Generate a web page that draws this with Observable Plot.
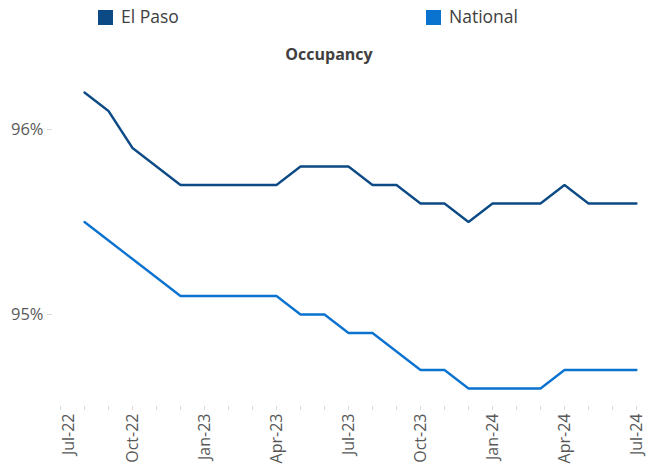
<!DOCTYPE html>
<html>
<head>
<meta charset="utf-8">
<script src="https://cdn.jsdelivr.net/npm/d3@7"></script>
<script src="https://cdn.jsdelivr.net/npm/@observablehq/plot@0.6"></script>
<style>
  body { margin: 0; background: #fff; font-family: "Open Sans", sans-serif; }
  #wrap { width: 649px; }
  #legend { position: relative; height: 32px; }
  .sw { position: absolute; top: 10px; width: 15px; height: 15px; }
  .lt { position: absolute; top: 3px; font-size: 17.5px; line-height: 26px; color: #404040; }
  #title { height: 38px; box-sizing: border-box; padding-top: 7px; line-height: 31px; font-size: 16px; font-weight: bold; color: #404040; text-align: center; padding-left: 9px; }
  svg { display: block; }
</style>
</head>
<body>
<div id="wrap">
  <div id="legend"></div>
  <div id="title">Occupancy</div>
  <div id="chart"></div>
</div>
<script>
const months = ["Jul-22","Aug-22","Sep-22","Oct-22","Nov-22","Dec-22","Jan-23","Feb-23","Mar-23","Apr-23","May-23","Jun-23","Jul-23","Aug-23","Sep-23","Oct-23","Nov-23","Dec-23","Jan-24","Feb-24","Mar-24","Apr-24","May-24","Jun-24","Jul-24"];
const dataMonths = months.slice(1);
const elPaso = [96.2,96.1,95.9,95.8,95.7,95.7,95.7,95.7,95.7,95.8,95.8,95.8,95.7,95.7,95.6,95.6,95.5,95.6,95.6,95.6,95.7,95.6,95.6,95.6];
const national = [95.5,95.4,95.3,95.2,95.1,95.1,95.1,95.1,95.1,95.0,95.0,94.9,94.9,94.8,94.7,94.7,94.6,94.6,94.6,94.6,94.7,94.7,94.7,94.7];
const seriesNames = ["El Paso", "National"];
const seriesColors = ["#0b4a85", "#0a72cf"];
const yTicks = [95, 96];
const tickLabels = ["Jul-22","Oct-22","Jan-23","Apr-23","Jul-23","Oct-23","Jan-24","Apr-24","Jul-24"];

const rows = [];
dataMonths.forEach((m, i) => {
  rows.push({month: m, series: seriesNames[0], value: elPaso[i]});
  rows.push({month: m, series: seriesNames[1], value: national[i]});
});

// legend
const legend = document.getElementById("legend");
const legendX = [98, 426];
seriesNames.forEach((name, i) => {
  const sw = document.createElement("div");
  sw.className = "sw";
  sw.style.left = legendX[i] + "px";
  sw.style.background = seriesColors[i];
  legend.appendChild(sw);
  const t = document.createElement("div");
  t.className = "lt";
  t.style.left = (legendX[i] + 23) + "px";
  t.textContent = name;
  legend.appendChild(t);
});

const firstLabel = tickLabels[0];
const chart = Plot.plot({
  width: 649,
  height: 401,
  marginLeft: 52,
  marginRight: 11,
  marginTop: 0,
  marginBottom: 65,
  style: {fontFamily: "Open Sans, sans-serif", background: "#fff"},
  x: {type: "point", domain: months, range: [57, 638], padding: 0},
  y: {domain: [94.5, 96.5], range: [336.5, -33.5]},
  color: {domain: seriesNames, range: seriesColors},
  marks: [
    Plot.axisX({
      ticks: months,
      tickSize: 4,
      tickPadding: 3,
      tickRotate: -90,
      stroke: "#d9d9d9",
      fill: "#595959",
      fontSize: 16,
      tickFormat: d => (tickLabels.includes(d) && d !== firstLabel) ? d : "",
      label: null
    }),
    Plot.axisX({
      ticks: [firstLabel],
      tickSize: 0,
      tickPadding: 7,
      tickRotate: -90,
      dx: 8,
      fill: "#595959",
      fontSize: 16,
      label: null
    }),
    Plot.axisY({
      ticks: yTicks,
      tickSize: 5,
      tickPadding: 4,
      stroke: "#d9d9d9",
      fill: "#595959",
      fontSize: 16.5,
      tickFormat: d => d + "%",
      label: null
    }),
    Plot.line(rows, {x: "month", y: "value", z: "series", stroke: "series", strokeWidth: 2.3, strokeLinejoin: "miter"})
  ]
});
document.getElementById("chart").appendChild(chart);
</script>
</body>
</html>
